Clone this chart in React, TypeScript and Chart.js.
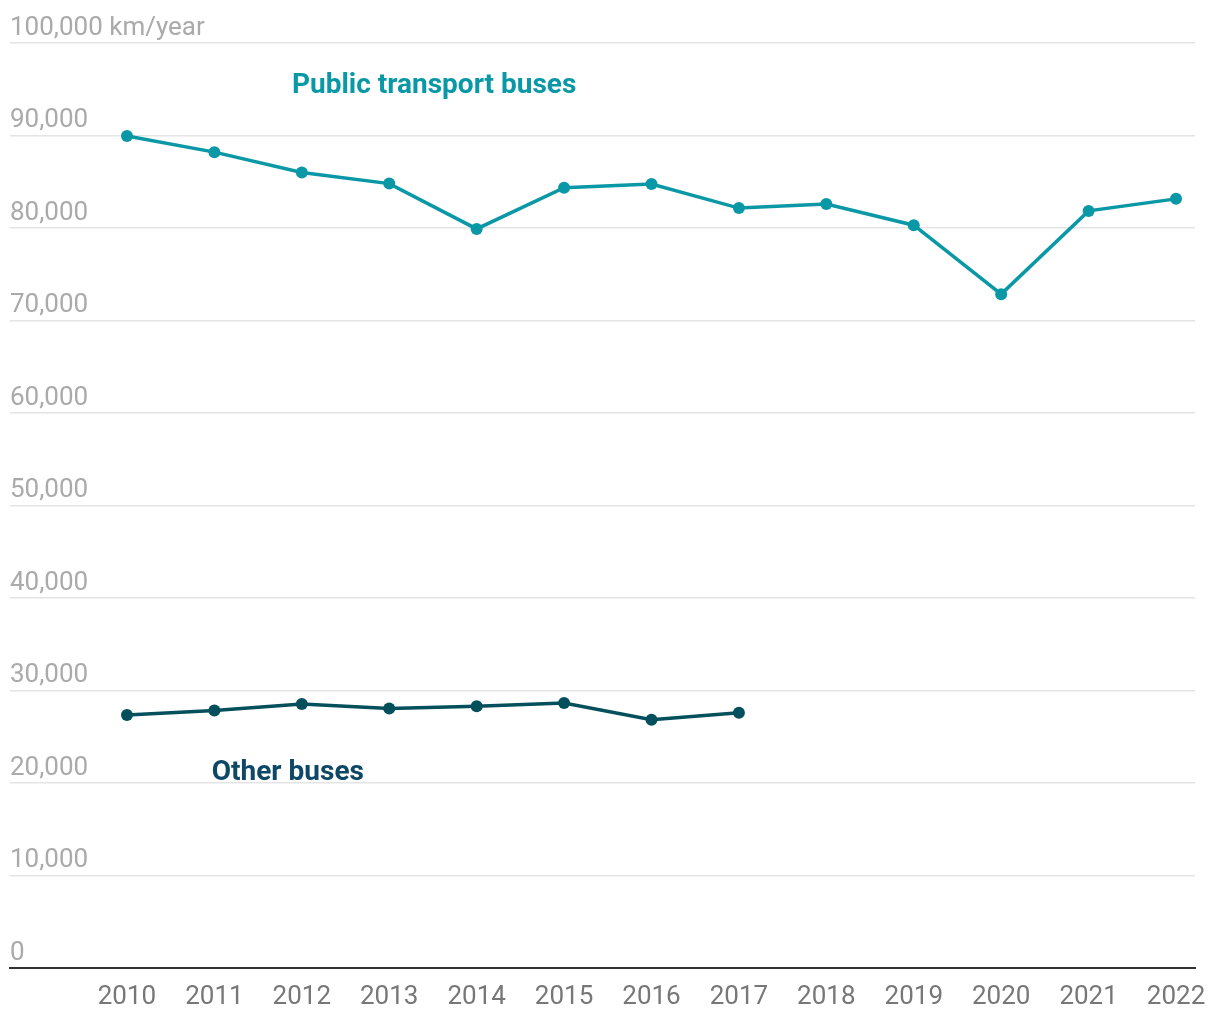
import React, { useEffect, useRef } from "react";
import { Chart, registerables } from "chart.js";

Chart.register(...registerables);

const years = [2010, 2011, 2012, 2013, 2014, 2015, 2016, 2017, 2018, 2019, 2020, 2021, 2022];
const publicBuses = [89950, 88200, 86000, 84800, 79900, 84350, 84750, 82150, 82600, 80300, 72850, 81850, 83150];
const otherYears = [2010, 2011, 2012, 2013, 2014, 2015, 2016, 2017];
const otherBuses = [27350, 27850, 28550, 28050, 28300, 28650, 26850, 27600];
const yTicks = [0, 10000, 20000, 30000, 40000, 50000, 60000, 70000, 80000, 90000, 100000];
const yUnit = "km/year";
const seriesLabels = ["Public transport buses", "Other buses"];
const labelAnchors = [
  { x: 2011.887, y: 95330 },
  { x: 2010.97, y: 21080 },
];

const PUBLIC_COLOR = "#0a98a6";
const OTHER_COLOR = "#03505c";
const OTHER_TEXT = "#0f4866";

const labelPlugin = {
  id: "seriesLabels",
  afterDatasetsDraw(chart: any) {
    const { ctx, scales } = chart;
    const xs = scales.x;
    const ys = scales.y;
    const colors = [PUBLIC_COLOR, OTHER_TEXT];
    ctx.save();
    ctx.font = "bold 28px Roboto";
    ctx.textAlign = "left";
    ctx.textBaseline = "middle";
    seriesLabels.forEach((t, i) => {
      ctx.fillStyle = colors[i];
      ctx.fillText(t, xs.getPixelForValue(labelAnchors[i].x), ys.getPixelForValue(labelAnchors[i].y));
    });
    ctx.restore();
  },
};

export default function App() {
  const ref = useRef<HTMLCanvasElement | null>(null);
  useEffect(() => {
    if (!ref.current) return;
    const chart = new Chart(ref.current, {
      type: "line",
      data: {
        datasets: [
          {
            label: seriesLabels[0],
            data: years.map((y, i) => ({ x: y, y: publicBuses[i] })),
            borderColor: PUBLIC_COLOR,
            backgroundColor: PUBLIC_COLOR,
            pointBackgroundColor: PUBLIC_COLOR,
            borderWidth: 3.5,
            pointRadius: 6,
            pointBorderWidth: 0,
            tension: 0,
          },
          {
            label: seriesLabels[1],
            data: otherYears.map((y, i) => ({ x: y, y: otherBuses[i] })),
            borderColor: OTHER_COLOR,
            backgroundColor: OTHER_COLOR,
            pointBackgroundColor: OTHER_COLOR,
            borderWidth: 3.5,
            pointRadius: 6,
            pointBorderWidth: 0,
            tension: 0,
          },
        ],
      },
      options: {
        responsive: false,
        animation: false,
        devicePixelRatio: 1,
        layout: { padding: { left: 10, right: 25, top: 43, bottom: 0 } },
        plugins: {
          legend: { display: false },
          tooltip: { enabled: false },
        },
        scales: {
          x: {
            type: "linear",
            min: 2008.662,
            max: 2022.217,
            afterBuildTicks: (scale: any) => {
              scale.ticks = years.map((v) => ({ value: v }));
            },
            afterFit: (scale: any) => {
              scale.height = 52;
            },
            grid: { display: false, drawTicks: false },
            border: { display: true, color: "#333333", width: 2 },
            ticks: {
              padding: 14,
              color: "#777777",
              font: { family: "Roboto", size: 26 },
              callback: (v: any) => String(v),
              maxRotation: 0,
              autoSkip: false,
            },
          },
          y: {
            min: 0,
            max: 100000,
            afterBuildTicks: (scale: any) => {
              scale.ticks = yTicks.map((v) => ({ value: v }));
            },
            grid: { color: "#e4e4e4", lineWidth: 1.5, drawTicks: false },
            border: { display: false },
            ticks: {
              mirror: true,
              padding: 0,
              labelOffset: -15,
              color: "#aaaaaa",
              font: { family: "Roboto", size: 26 },
              callback: (v: any) =>
                v === 100000 ? `${Number(v).toLocaleString("en-US")} ${yUnit}` : Number(v).toLocaleString("en-US"),
            },
          },
        },
      },
      plugins: [labelPlugin],
    });
    return () => chart.destroy();
  }, []);
  return (
    <div style={{ position: "absolute", left: 0, top: 0, width: 1220, height: 1020, background: "#fff" }}>
      <canvas ref={ref} width={1220} height={1020} />
    </div>
  );
}
